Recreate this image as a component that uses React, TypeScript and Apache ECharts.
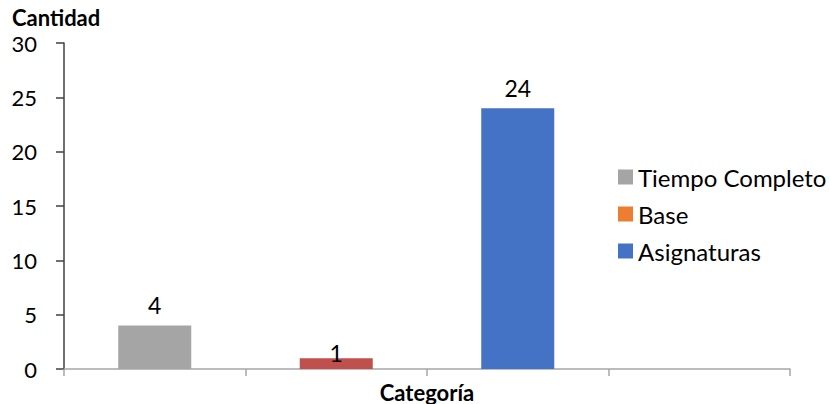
import React, { useEffect, useRef } from "react";
import * as echarts from "echarts";

const categories = ["c1", "c2", "c3", "c4"];
const seriesNames = ["Tiempo Completo", "Base", "Asignaturas"];
const tiempoCompleto = [4, "-", "-", "-"];
const base = ["-", 1, "-", "-"];
const asignaturas = ["-", "-", 24, "-"];
const barColors = ["#A5A5A5", "#C0504D", "#4472C4"];
const legendColors = ["#A5A5A5", "#ED7D31", "#4472C4"];

const FONT = "Lato";

export default function App() {
  const ref = useRef<HTMLDivElement>(null);
  useEffect(() => {
    const chart = echarts.init(ref.current!, undefined, { renderer: "svg" });
    const values = [tiempoCompleto, base, asignaturas];
    chart.setOption({
      animation: false,
      textStyle: { fontFamily: FONT },
      grid: { left: 64, right: 40, top: 43, bottom: 35, containLabel: false, outerBoundsMode: "none" },
      legend: {
        orient: "vertical",
        left: 613,
        top: 160,
        itemWidth: 15,
        itemHeight: 15,
        itemGap: 13,
        icon: "rect",
        textStyle: { fontFamily: FONT, fontSize: 24, color: "#000" },
        data: seriesNames.map((n, i) => ({ name: n, itemStyle: { color: legendColors[i] } })),
      },
      xAxis: {
        type: "category",
        data: categories,
        name: "Categoría",
        nameLocation: "middle",
        nameGap: 12,
        nameTextStyle: { fontFamily: FONT, fontSize: 22, fontWeight: "bold", color: "#000", lineHeight: 22 },
        axisLine: { lineStyle: { color: "#A6A6A6", width: 1.5 } },
        axisTick: { show: true, length: 7, lineStyle: { color: "#A6A6A6", width: 1.5 } },
        axisLabel: { show: false },
      },
      yAxis: {
        type: "value",
        min: 0,
        max: 30,
        interval: 5,
        name: "Cantidad",
        nameLocation: "end",
        nameGap: 15,
        nameTextStyle: {
          fontFamily: FONT,
          fontSize: 22,
          fontWeight: "bold",
          color: "#000",
          lineHeight: 22,
          align: "left",
          padding: [0, 0, 0, -52],
        },
        splitLine: { show: false },
        axisLine: { show: true, lineStyle: { color: "#404040", width: 1.5 } },
        axisTick: { show: true, length: 8, lineStyle: { color: "#404040", width: 1.5 } },
        axisLabel: { fontFamily: FONT, fontSize: 22, color: "#000", margin: 27, lineHeight: 20 },
      },
      series: seriesNames.map((n, i) => ({
        name: n,
        type: "bar",
        stack: "all",
        barWidth: 73,
        data: values[i],
        itemStyle: { color: barColors[i] },
        label: {
          show: true,
          position: "top",
          distance: i === 1 ? -6 : 9,
          fontFamily: FONT,
          fontSize: 23,
          color: "#000",
        },
      })),
    });
    return () => chart.dispose();
  }, []);
  return <div ref={ref} style={{ width: 830, height: 404, position: "absolute", left: 0, top: 0 }} />;
}
